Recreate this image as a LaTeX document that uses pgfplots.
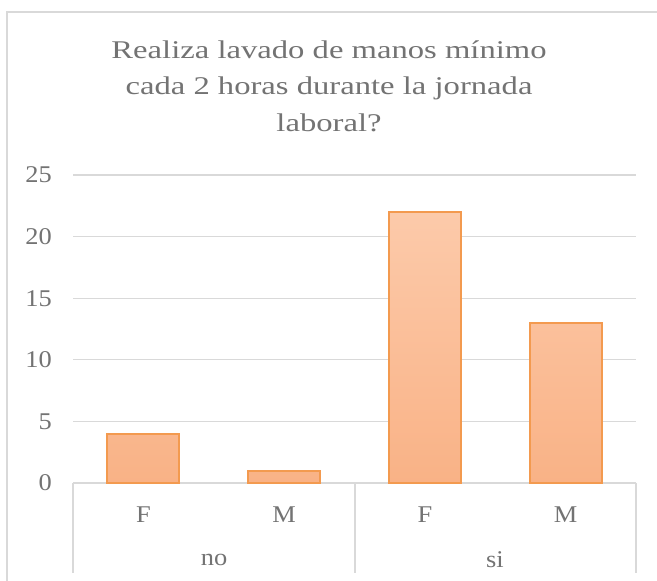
\documentclass[border=0pt]{standalone}
\usepackage{fontspec}
\setmainfont{Liberation Serif}
\newfontfamily\titlefont{Liberation Serif}[FakeStretch=1.28]
\newfontfamily\tickfont{Liberation Serif}[FakeStretch=1.1]
\usepackage{pgfplots}
\pgfplotsset{compat=1.18}
\definecolor{gridc}{HTML}{D9D9D9}
\definecolor{txt}{HTML}{737373}
\definecolor{barline}{HTML}{F39A4F}
\definecolor{bartop}{HTML}{FCCAAA}
\definecolor{barbot}{HTML}{F9B286}
\begin{document}
\begin{tikzpicture}
\path[use as bounding box] (0bp,0bp) rectangle (657bp,581bp);
\clip (0bp,0bp) rectangle (657bp,581bp);
\begin{scope}[x=1bp,y=1bp]
\fill[white] (0,0) rectangle (657,581);
\draw[gridc, line width=1.2bp] (7,-10) rectangle (690,569);
\begin{scope}[every node/.style={text=txt, font=\titlefont\fontsize{25.5bp}{37bp}\selectfont, anchor=base}]
\node at (329,522) {Realiza lavado de manos mínimo};
\node at (329,486) {cada 2 horas durante la jornada};
\node at (329,449) {laboral?};
\end{scope}
\end{scope}
\begin{axis}[
  at={(73bp,98bp)}, anchor=south west,
  scale only axis, width=563bp, height=308bp,
  xmin=-0.5, xmax=3.5, ymin=0, ymax=25,
  ytick={0,5,10,15,20,25},
  xtick={0,1,2,3}, xticklabels={F,M,F,M},
  major tick length=0pt,
  axis line style={draw=none},
  ymajorgrids, grid style={gridc, line width=1.2bp},
  /pgf/number format/assume math mode=true,
  tick label style={font=\tickfont\fontsize{24bp}{24bp}\selectfont, text=txt},
  yticklabel style={anchor=east, inner sep=0pt, xshift=-21bp},
  xticklabel style={anchor=center, inner sep=0pt, yshift=-32bp},
  clip=false,
]
\addplot[ybar, bar width=72bp, draw=barline, line width=1.8bp, top color=bartop, bottom color=barbot]
  coordinates {(0,4) (1,1) (2,22) (3,13)};
\end{axis}
\begin{scope}[x=1bp,y=1bp]
\draw[gridc, line width=1.2bp] (73,98) -- (73,8);
\draw[gridc, line width=1.2bp] (355,98) -- (355,8);
\draw[gridc, line width=1.2bp] (636,98) -- (636,8);
\node[text=txt, font=\tickfont\fontsize{24bp}{24bp}\selectfont] at (214,21) {no};
\node[text=txt, font=\tickfont\fontsize{24bp}{24bp}\selectfont] at (495,21) {si};
\end{scope}
\end{tikzpicture}
\end{document}
